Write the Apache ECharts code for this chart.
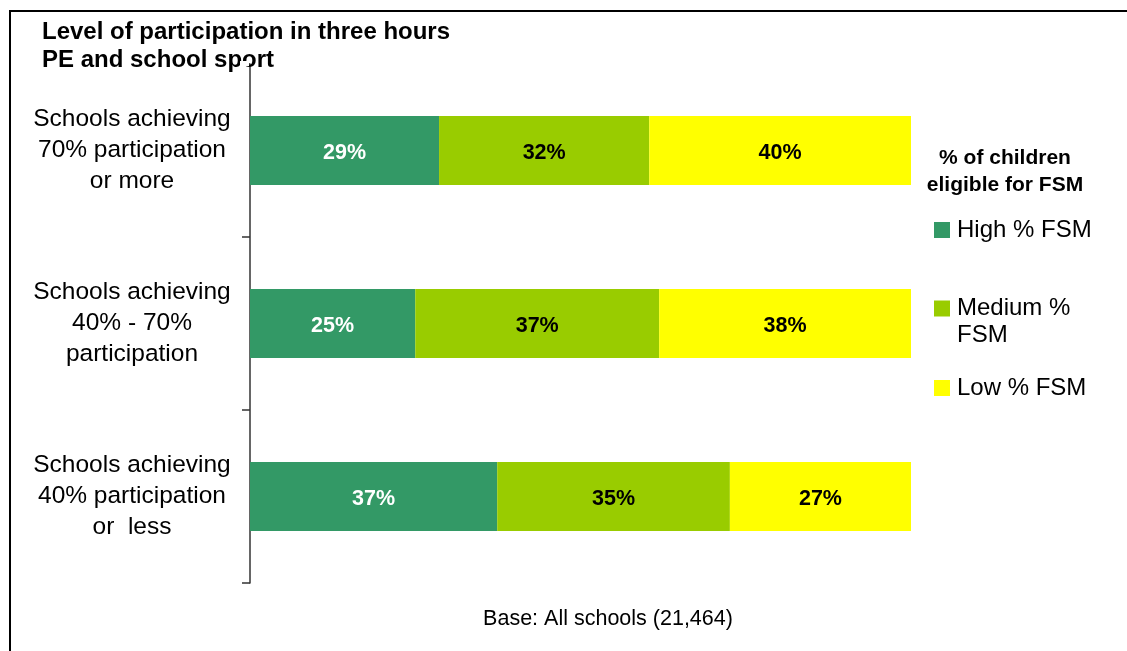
<!DOCTYPE html>
<html>
<head>
<meta charset="utf-8">
<script src="https://cdn.jsdelivr.net/npm/echarts@6/dist/echarts.min.js"></script>
<style>
html,body{margin:0;padding:0;background:#fff;}
#chart{width:1127px;height:651px;}
</style>
</head>
<body>
<div id="chart"></div>
<script>
var categories = [
  'Schools achieving\n70% participation\nor more',
  'Schools achieving\n40% - 70%\nparticipation',
  'Schools achieving\n40% participation\nor  less'
];
var seriesNames = ['High % FSM', 'Medium % FSM', 'Low % FSM'];
var highFSM = [28.6, 25.0, 37.4];
var mediumFSM = [31.8, 36.9, 35.2];
var lowFSM = [39.6, 38.1, 27.4];
var colors = ['#339966', '#99CC00', '#FFFF00'];
var labelColors = ['#ffffff', '#000000', '#000000'];

var FONT = 'Liberation Sans, Arial, sans-serif';
var chart = echarts.init(document.getElementById('chart'));

function mkSeries(name, data, i) {
  return {
    name: name, type: 'bar', stack: 'total', data: data,
    barCategoryGap: '60%',
    itemStyle: { color: colors[i] },
    label: {
      show: true, position: 'inside', color: labelColors[i], offset: [0, 3],
      fontFamily: FONT, fontWeight: 'bold', fontSize: 21.5,
      formatter: function (p) { return Math.round(p.value) + '%'; }
    },
    emphasis: { disabled: true }
  };
}

function mkLegend(name, top, fmt) {
  return {
    data: [name], left: 934, top: top, orient: 'vertical', padding: 0,
    icon: 'rect', itemWidth: 16, itemHeight: 16, itemGap: 0,
    selectedMode: false,
    formatter: fmt || '{name}',
    textStyle: { fontFamily: FONT, fontSize: 24, color: '#000', lineHeight: 27, padding: [0, 0, 0, 2] }
  };
}

chart.setOption({
  animation: false,
  title: [
    { text: 'Level of participation in three hours\nPE and school sport', left: 42, top: 18, padding: 0,
      textStyle: { fontFamily: FONT, fontWeight: 'bold', fontSize: 24, lineHeight: 28.5, color: '#000' } },
    { text: '% of children\neligible for FSM', left: 1005, top: 144.5, textAlign: 'center', padding: 0,
      textStyle: { fontFamily: FONT, fontWeight: 'bold', fontSize: 21, lineHeight: 27, color: '#000' } },
    { text: 'Base: All schools (21,464)', left: 608, top: 607, textAlign: 'center', padding: 0,
      textStyle: { fontFamily: FONT, fontWeight: 'normal', fontSize: 21.5, lineHeight: 24, color: '#000' } }
  ],
  graphic: [
    { type: 'rect', shape: { x: 10, y: 11, width: 1300, height: 800 },
      style: { fill: 'none', stroke: '#000', lineWidth: 2 }, silent: true },
    { type: 'rect', shape: { x: 240, y: 61, width: 9, height: 5 }, z: 100,
      style: { fill: '#fff' }, silent: true }
  ],
  legend: [
    mkLegend(seriesNames[0], 216.5),
    mkLegend(seriesNames[1], 268, '\nMedium %\nFSM'),
    mkLegend(seriesNames[2], 374.5)
  ],
  grid: { left: 250, top: 64, right: 216, bottom: 68, containLabel: false },
  xAxis: { type: 'value', min: 0, max: 100, show: false },
  yAxis: {
    type: 'category', data: categories, inverse: true,
    axisLine: { show: true, lineStyle: { color: '#333', width: 1.5 } },
    axisTick: { show: true, length: 8, lineStyle: { color: '#333', width: 1.5 } },
    axisLabel: { fontFamily: FONT, fontSize: 24.5, color: '#000', align: 'center', margin: 118, lineHeight: 31,
      padding: [4, 0, 0, 0] }
  },
  series: [
    mkSeries(seriesNames[0], highFSM, 0),
    mkSeries(seriesNames[1], mediumFSM, 1),
    mkSeries(seriesNames[2], lowFSM, 2)
  ]
});
</script>
</body>
</html>
